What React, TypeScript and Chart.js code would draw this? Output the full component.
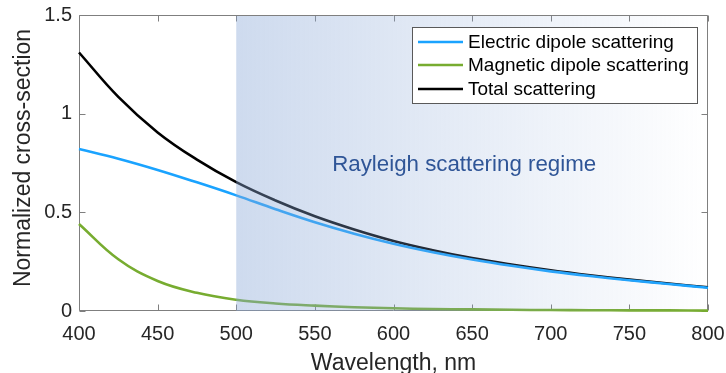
import { useEffect, useRef } from "react";
import { Chart, registerables } from "chart.js";

Chart.register(...registerables);

const FONT = '"Liberation Sans", Arial, Helvetica, sans-serif';

// ---- data ----
const wavelengths = [400, 425, 450, 475, 500, 525, 550, 575, 600, 625, 650, 675, 700, 725, 750, 775, 800];
const electricDipole = [0.821, 0.772, 0.715, 0.652, 0.586, 0.516, 0.45, 0.392, 0.341, 0.298, 0.261, 0.229, 0.201, 0.177, 0.156, 0.137, 0.118];
const magneticDipole = [0.441, 0.262, 0.152, 0.092, 0.057, 0.038, 0.027, 0.019, 0.014, 0.01, 0.008, 0.006, 0.005, 0.004, 0.003, 0.003, 0.002];
const totalScattering = [1.31, 1.085, 0.905, 0.767, 0.653, 0.56, 0.48, 0.413, 0.355, 0.308, 0.268, 0.235, 0.206, 0.181, 0.159, 0.139, 0.12];
const seriesLabels = ["Electric dipole scattering", "Magnetic dipole scattering", "Total scattering"];
const seriesColors = ["#1aa3ff", "#77ac30", "#000000"];
const xTicks = [400, 450, 500, 550, 600, 650, 700, 750, 800];
const yTicks = [0, 0.5, 1, 1.5];
const regimeRange = [500, 800];
const regimeLabel = "Rayleigh scattering regime";
const regimeLabelPos = [561, 0.71];
const xTitle = "Wavelength, nm";
const yTitle = "Normalized cross-section";

const AXIS_COLOR = "#7f7f7f";
const TEXT_COLOR = "#262626";
const TICK_LEN = 6;

const frameTicksPlugin = {
  id: "frameTicks",
  beforeDatasetsDraw(chart: any) {
    const { ctx, chartArea: a, scales } = chart;
    const x = scales.x, y = scales.y;
    ctx.save();
    ctx.strokeStyle = AXIS_COLOR;
    ctx.lineWidth = 1;
    const L = Math.round(a.left) + 0.5, R = Math.round(a.right) - 0.5;
    const T = Math.round(a.top) + 0.5, B = Math.round(a.bottom) - 0.5;
    ctx.beginPath();
    ctx.rect(L, T, R - L, B - T);
    for (const v of xTicks) {
      const px = Math.round(x.getPixelForValue(v)) + 0.5;
      ctx.moveTo(px, B); ctx.lineTo(px, B - TICK_LEN);
      ctx.moveTo(px, T); ctx.lineTo(px, T + TICK_LEN);
    }
    for (const v of yTicks) {
      const py = Math.round(y.getPixelForValue(v)) + 0.5;
      ctx.moveTo(L, py); ctx.lineTo(L + TICK_LEN, py);
      ctx.moveTo(R, py); ctx.lineTo(R - TICK_LEN, py);
    }
    ctx.stroke();
    // y axis title
    ctx.translate(24, (a.top + a.bottom) / 2 - 5);
    ctx.rotate(-Math.PI / 2);
    ctx.fillStyle = TEXT_COLOR;
    ctx.font = `23px ${FONT}`;
    ctx.textAlign = "center";
    ctx.textBaseline = "middle";
    ctx.fillText(yTitle, 0, 0);
    ctx.restore();
  },
  afterDatasetsDraw(chart: any) {
    const { ctx, chartArea: a, scales } = chart;
    const x = scales.x, y = scales.y;
    const x0 = x.getPixelForValue(regimeRange[0]);
    const x1 = x.getPixelForValue(regimeRange[1]);
    ctx.save();
    const g = ctx.createLinearGradient(x0, 0, x1, 0);
    g.addColorStop(0, "rgba(138,168,215,0.42)");
    g.addColorStop(1, "rgba(138,168,215,0)");
    ctx.fillStyle = g;
    ctx.fillRect(x0, a.top + 1, x1 - x0 - 1, a.bottom - a.top - 1);
    ctx.fillStyle = "#2f5597";
    ctx.font = `22.3px ${FONT}`;
    ctx.textAlign = "left";
    ctx.textBaseline = "alphabetic";
    ctx.fillText(regimeLabel, x.getPixelForValue(regimeLabelPos[0]), y.getPixelForValue(regimeLabelPos[1]));
    ctx.restore();
  },
  afterDraw(chart: any) {
    const { ctx, chartArea: a } = chart;
    ctx.save();
    const boxR = a.right - 11, boxL = boxR - 285, boxT = a.top + 12, boxH = 76;
    ctx.fillStyle = "#ffffff";
    ctx.fillRect(boxL, boxT, boxR - boxL, boxH);
    ctx.strokeStyle = "#595959";
    ctx.lineWidth = 1;
    ctx.strokeRect(Math.round(boxL) + 0.5, Math.round(boxT) + 0.5, Math.round(boxR - boxL), boxH);
    ctx.font = `19px ${FONT}`;
    ctx.textBaseline = "middle";
    ctx.textAlign = "left";
    const rows = [boxT + 15, boxT + 38, boxT + 62];
    chart.data.datasets.forEach((ds: any, i: number) => {
      const ry = rows[i];
      ctx.strokeStyle = ds.borderColor;
      ctx.lineWidth = 2.5;
      ctx.beginPath();
      ctx.moveTo(boxL + 6, ry);
      ctx.lineTo(boxL + 51, ry);
      ctx.stroke();
      ctx.fillStyle = "#000000";
      ctx.fillText(ds.label, boxL + 56, ry + 0.5);
    });
    ctx.restore();
  },
};

export default function App() {
  const ref = useRef<HTMLCanvasElement>(null);
  useEffect(() => {
    document.body.style.margin = "0";
    const canvas = ref.current!;
    const seriesValues = [electricDipole, magneticDipole, totalScattering];
    const noPad = (s: any) => {
      s.paddingLeft = 0; s.paddingRight = 0; s.paddingTop = 0; s.paddingBottom = 0;
    };
    const chart = new Chart(canvas, {
      type: "line",
      data: {
        datasets: seriesValues.map((vals, i) => ({
          label: seriesLabels[i],
          data: wavelengths.map((w, j) => ({ x: w, y: vals[j] })),
          borderColor: seriesColors[i],
          backgroundColor: seriesColors[i],
          borderWidth: 2.6,
          pointRadius: 0,
          tension: 0.4,
          clip: false as any,
        })),
      },
      options: {
        responsive: false,
        animation: false,
        layout: { padding: { left: 0, top: 15, right: 18, bottom: 0 } },
        plugins: { legend: { display: false }, tooltip: { enabled: false } },
        scales: {
          x: {
            type: "linear",
            min: 400,
            max: 800,
            afterBuildTicks: (s: any) => { s.ticks = xTicks.map((v) => ({ value: v })); },
            afterFit: (s: any) => { s.height = 62; noPad(s); },
            grid: { display: false, drawTicks: false, tickLength: 0 },
            border: { display: false },
            ticks: { padding: 11, color: TEXT_COLOR, font: { family: FONT, size: 20 }, maxRotation: 0, autoSkip: false, callback: (v: any) => String(v) },
            title: { display: true, text: xTitle, color: TEXT_COLOR, font: { family: FONT, size: 23, lineHeight: 1 }, padding: { top: 0, bottom: -2 } },
          },
          y: {
            type: "linear",
            min: 0,
            max: 1.5,
            afterBuildTicks: (s: any) => { s.ticks = yTicks.map((v) => ({ value: v })); },
            afterFit: (s: any) => { s.width = 79; noPad(s); },
            grid: { display: false, drawTicks: false, tickLength: 0 },
            border: { display: false },
            ticks: { padding: 7, color: TEXT_COLOR, font: { family: FONT, size: 20 }, callback: (v: any) => String(v) },
            title: { display: false },
          },
        },
      },
      plugins: [frameTicksPlugin],
    });
    return () => chart.destroy();
  }, []);
  return (
    <div style={{ width: 726, height: 373 }}>
      <canvas ref={ref} width={726} height={373} style={{ display: "block" }} />
    </div>
  );
}
